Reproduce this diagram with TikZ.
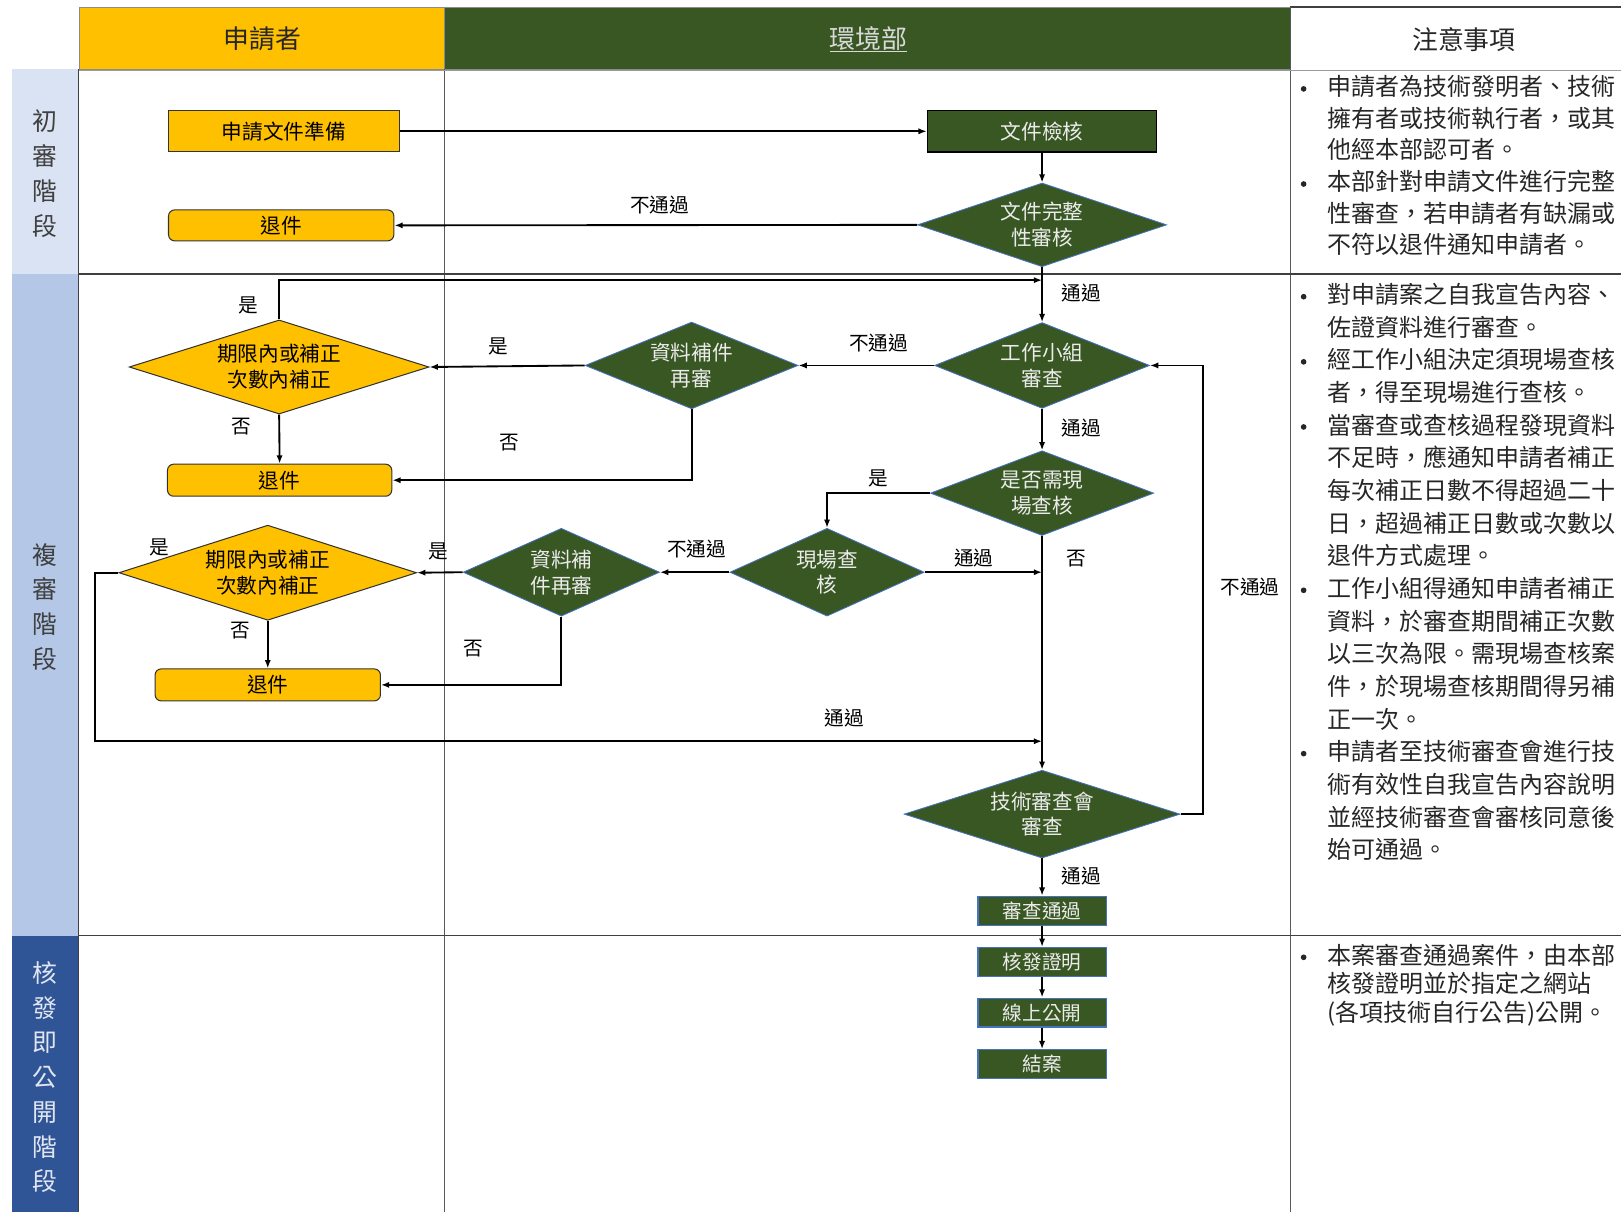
\documentclass[tikz,border=0pt]{standalone}
\usepackage{fontspec}
\setmainfont{Noto Sans CJK TC}
\usetikzlibrary{shapes.geometric,arrows.meta}
\definecolor{ylw}{HTML}{FFC000}
\definecolor{grn}{HTML}{385723}
\definecolor{stA}{HTML}{DAE3F3}
\definecolor{stB}{HTML}{B4C7E7}
\definecolor{stC}{HTML}{2F5597}
\definecolor{edgeb}{HTML}{4472C4}
\definecolor{gridc}{HTML}{595959}
\tikzset{
 arr/.style={draw=black, line width=1.8pt, -{Latex[length=8pt,width=6pt]}},
 ybox/.style={rectangle, fill=ylw, draw=black!80, line width=1pt, inner sep=0pt, font=\fontsize{20}{24}\selectfont, text=black},
 yround/.style={ybox, rounded corners=6pt},
 gbox/.style={rectangle, fill=grn, draw=edgeb, line width=1.2pt, inner sep=0pt, font=\fontsize{19}{23}\selectfont, text=white!92!black},
 gdiam/.style={diamond, fill=grn, draw=edgeb, line width=0.8pt, inner sep=0pt},
 ydiam/.style={diamond, fill=ylw, draw=black!80, line width=1pt, inner sep=0pt},
 wtxt/.style={align=center, font=\fontsize{20}{25}\selectfont, text=white!92!black, inner sep=0pt},
 ktxt/.style={align=center, font=\fontsize{20}{25}\selectfont, text=black, inner sep=0pt},
 lbl/.style={font=\fontsize{19}{22}\selectfont, inner sep=0pt, text=black},
 note/.style={font=\fontsize{23.2}{26}\selectfont, inner sep=0pt, anchor=west, text=black!85, text height=17pt, text depth=4pt},
 bullet/.style={circle, fill=black!85, inner sep=0pt, minimum size=5.5pt},
 stage/.style={align=center, font=\fontsize{24}{33.6}\selectfont, inner sep=0pt},
 hdr/.style={font=\fontsize{25}{30}\selectfont, inner sep=0pt},
 grid/.style={draw=gridc, line width=1pt},
 gridb/.style={draw=black!75, line width=1.6pt},
}
\begin{document}
\begin{tikzpicture}[x=1pt,y=-1pt]
\useasboundingbox (0,0) rectangle (1568,1172);
% header
\filldraw[fill=ylw, draw=gridc!70, line width=0.8pt] (77,7) rectangle (430,67);
\filldraw[fill=grn, draw=gridc!70, line width=0.8pt] (430,7) rectangle (1248,67);
\draw[gridb] (1248,7) -- (1568,7);
\node[hdr, text=black!85] (h1) at (254,38) {申請者};
\node[hdr, text=white!85!black] (h2) at (840,38) {\underline{環境部}};
\node[hdr, text=black!85] (h3) at (1416,38) {注意事項};
% stage column
\fill[stA] (12,67) rectangle (76,265);
\fill[stB] (12,265) rectangle (76,905);
\fill[stC] (12,905) rectangle (76,1172);
\node[stage, text=black!75] (sA) at (43,168) {初\\審\\階\\段};
\node[stage, text=black!75] (sB) at (43,587) {複\\審\\階\\段};
\node[stage, text=white!85!stC] (sC) at (43,1042) {核\\發\\即\\公\\開\\階\\段};
% grid
\draw[gridb] (76,67) -- (76,1172);
\draw[grid] (430,67) -- (430,1172);
\draw[grid] (1248,7) -- (1248,1172);
\draw[gridc!60, line width=1.2pt] (76,68) -- (1568,68);
\draw[gridb] (76,265) -- (1568,265);
\draw[gridb] (76,905) -- (1568,905);

% nodes
\node[ybox, minimum width=223pt, minimum height=40pt] (a1) at (274.5,127) {申請文件準備};
\node[gbox, draw=black, minimum width=222pt, minimum height=40pt, font=\fontsize{20}{24}\selectfont] (b1) at (1008,127) {文件檢核};
\node[gdiam, minimum width=241pt, minimum height=81pt, label={[wtxt]center:文件完整\\性審核}] (d1) at (1008,217.5) {};
\node[yround, minimum width=218pt, minimum height=30pt] (r1) at (272,218) {退件};

\node[gdiam, minimum width=208pt, minimum height=83pt, label={[wtxt]center:工作小組\\審查}] (d2) at (1008,353.5) {};
\node[gdiam, minimum width=206pt, minimum height=84pt, label={[wtxt]center:資料補件\\再審}] (d3) at (669,353.5) {};
\node[ydiam, minimum width=290pt, minimum height=91pt, label={[ktxt]center:期限內或補正\\次數內補正}] (q1) at (270,355) {};
\node[yround, minimum width=217pt, minimum height=31pt] (r2) at (270.5,464.5) {退件};

\node[gdiam, minimum width=216pt, minimum height=82pt, label={[wtxt]center:是否需現\\場查核}] (d4) at (1008,477) {};
\node[gdiam, minimum width=188pt, minimum height=85pt, label={[wtxt]center:現場查\\核}] (d5) at (800,553.5) {};
\node[gdiam, minimum width=190pt, minimum height=85pt, label={[wtxt]center:資料補\\件再審}] (d6) at (543,553.5) {};
\node[ydiam, minimum width=288pt, minimum height=92pt, label={[ktxt]center:期限內或補正\\次數內補正}] (q2) at (259,554) {};
\node[yround, minimum width=218pt, minimum height=31pt] (r3) at (259,662.5) {退件};

\node[gdiam, minimum width=267pt, minimum height=85pt, label={[wtxt]center:技術審查會\\審查}] (d7) at (1008,787.5) {};
\node[gbox, minimum width=124pt, minimum height=28pt] (s1) at (1008,881) {審查通過};
\node[gbox, minimum width=124pt, minimum height=28pt] (s2) at (1008,930.5) {核發證明};
\node[gbox, minimum width=124pt, minimum height=28pt] (s3) at (1008,979.5) {線上公開};
\node[gbox, minimum width=124pt, minimum height=28pt] (s4) at (1008,1029.5) {結案};

\coordinate (j1) at (1008,271);
\coordinate (j2) at (1008,553.5);
\coordinate (j3) at (1008,717);

% connectors
\draw[arr] (a1.east) -- (b1.west);
\draw[arr] (b1.south) -- (d1.north);
\draw[arr] (d1.west) -- (r1.east);
\draw[arr] (d1.south) -- (d2.north);
\draw[arr] (q1.north) |- (j1);
\draw[arr] (d2.west) -- (d3.east);
\draw[arr] (d3.west) -- (q1.east);
\draw[arr] (q1.south) -- (r2.north);
\draw[arr] (d3.south) |- (r2.east);
\draw[arr] (d2.south) -- (d4.north);
\draw[arr] (d4.west) -| (d5.north);
\draw[arr] (d5.east) -- (j2);
\draw[arr] (d4.south) -- (d7.north);
\draw[arr] (d5.west) -- (d6.east);
\draw[arr] (d6.west) -- (q2.east);
\draw[arr] (q2.south) -- (r3.north);
\draw[arr] (d6.south) |- (r3.east);
\draw[arr] (q2.west) -- ++(-23,0) |- (j3);
\draw[arr] (d7.east) -- ++(22,0) |- (d2.east);
\draw[arr] (d7.south) -- (s1.north);
\draw[arr] (s1.south) -- (s2.north);
\draw[arr] (s2.south) -- (s3.north);
\draw[arr] (s3.south) -- (s4.north);

% edge labels
\node[lbl] (l1) at (638,198) {不通過};
\node[lbl] (l2) at (1046,283) {通過};
\node[lbl] (l3) at (240,295) {是};
\node[lbl] (l4) at (482,335) {是};
\node[lbl] (l5) at (850,332) {不通過};
\node[lbl] (l6) at (233,413) {否};
\node[lbl] (l7) at (493,428) {否};
\node[lbl] (l8) at (1046,414) {通過};
\node[lbl] (l9) at (850,463) {是};
\node[lbl] (l10) at (942,540) {通過};
\node[lbl] (l11) at (1041,540) {否};
\node[lbl] (l12) at (674,531) {不通過};
\node[lbl] (l13) at (424,533) {是};
\node[lbl] (l14) at (154,530) {是};
\node[lbl] (l15) at (232,610) {否};
\node[lbl] (l16) at (458,627) {否};
\node[lbl] (l17) at (817,695) {通過};
\node[lbl] (l18) at (1209,568) {不通過};
\node[lbl] (l19) at (1046,847) {通過};

% notes
\foreach \t [count=\i] in {{申請者為技術發明者、技術},{擁有者或技術執行者，或其},{他經本部認可者。},{本部針對申請文件進行完整},{性審查，若申請者有缺漏或},{不符以退件通知申請者。}}
  \node[note] (na\i) at (1284,{86+(\i-1)*30.6}) {\t};
\foreach \t [count=\i] in {{對申請案之自我宣告內容、},{佐證資料進行審查。},{經工作小組決定須現場查核},{者，得至現場進行查核。},{當審查或查核過程發現資料},{不足時，應通知申請者補正},{每次補正日數不得超過二十},{日，超過補正日數或次數以},{退件方式處理。},{工作小組得通知申請者補正},{資料，於審查期間補正次數},{以三次為限。需現場查核案},{件，於現場查核期間得另補},{正一次。},{申請者至技術審查會進行技},{術有效性自我宣告內容說明},{並經技術審查會審核同意後},{始可通過。}}
  \node[note] (nb\i) at (1284,{287+(\i-1)*31.6}) {\t};
\foreach \t [count=\i] in {{本案審查通過案件，由本部},{核發證明並於指定之網站},{(各項技術自行公告)公開。}}
  \node[note] (nc\i) at (1284,{926+(\i-1)*28}) {\t};
\foreach \y [count=\i] in {86,178,287,350,413,571,729,926}
  \node[bullet] (bu\i) at (1261,\y) {};
\end{tikzpicture}
\end{document}
